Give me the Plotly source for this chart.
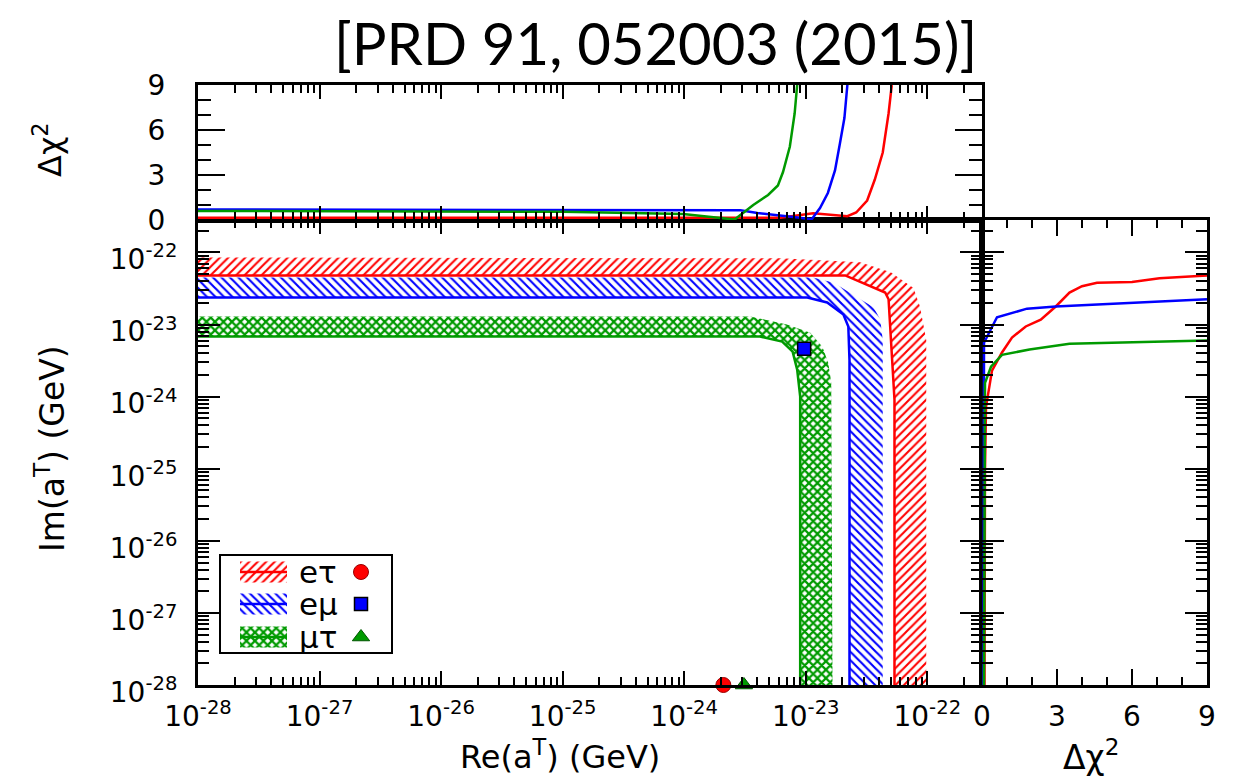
import plotly.graph_objects as go

W, H = 1243, 779

# ---------------- allowed bands in the (Re a^T, Im a^T) plane ----------------
# inner edge (drawn as a solid line) and outer edge of each hatched band
et_in_re = [1e-28, 2.11e-23, 4.5e-23, 4.8e-23, 5.37e-23, 5.37e-23]
et_in_im = [4.8e-23, 4.8e-23, 2.78e-23, 2.24e-23, 9.1e-25, 1e-28]
et_out_re = [1e-28, 6.2e-24, 2.8e-23, 5.0e-23, 7.7e-23, 8.7e-23, 9.8e-23, 9.8e-23]
et_out_im = [8.5e-23, 8.3e-23, 7.3e-23, 5.3e-23, 3.2e-23, 1.78e-23, 6.1e-24, 1e-28]

em_in_re = [1e-28, 1.03e-23, 1.5e-23, 2.04e-23, 2.24e-23, 2.29e-23, 2.29e-23]
em_in_im = [2.37e-23, 2.37e-23, 2.02e-23, 1.38e-23, 9.4e-24, 3.2e-24, 1e-28]
em_out_re = [1e-28, 1.15e-23, 1.7e-23, 3.6e-23, 4.1e-23, 4.3e-23, 4.3e-23]
em_out_im = [4.5e-23, 4.5e-23, 3.8e-23, 1.74e-23, 1.18e-23, 6.1e-24, 1e-28]

mt_in_re = [1e-28, 4.2e-24, 6.4e-24, 7.8e-24, 8.5e-24, 9.0e-24, 9.0e-24]
mt_in_im = [6.8e-24, 6.8e-24, 5.8e-24, 4.2e-24, 2.37e-24, 1.0e-24, 1e-28]
mt_out_re = [1e-28, 3.5e-24, 7.0e-24, 1.09e-23, 1.37e-23, 1.53e-23, 1.62e-23, 1.66e-23]
mt_out_im = [1.29e-23, 1.29e-23, 1.0e-23, 7.7e-24, 4.9e-24, 2.95e-24, 1.58e-24, 1e-28]

# best-fit points
best_labels = ["eτ", "eμ", "μτ"]
best_re = [2.1e-24, 9.7e-24, 3.1e-24]
best_im = [1e-28, 4.6e-24, 1e-28]

# ---------------- Δχ² profiles ----------------
et_top_re = [1e-28, 6.2e-24, 1.15e-23, 2.2e-23, 2.6e-23, 3.2e-23, 3.7e-23, 4.3e-23, 4.8e-23, 5.1e-23]
et_top_chi2 = [0.15, 0.15, 0.45, 0.25, 0.5, 1.3, 2.7, 4.5, 7.1, 9.0]
em_top_re = [1e-28, 9.8e-25, 2.9e-24, 4.0e-24, 5.4e-24, 7.9e-24, 1.12e-23, 1.31e-23,
             1.52e-23, 1.74e-23, 1.91e-23, 2.08e-23, 2.2e-23]
em_top_chi2 = [0.7, 0.7, 0.65, 0.47, 0.33, 0.2, 0.05, 0.8, 1.8, 3.3, 5.1, 6.8, 9.0]
mt_top_re = [1e-28, 1e-26, 1e-25, 9.8e-25, 2.0e-24, 2.6e-24, 3.7e-24, 4.9e-24, 5.9e-24,
             6.5e-24, 7.4e-24, 8.1e-24, 8.5e-24]
mt_top_chi2 = [0.6, 0.6, 0.55, 0.4, 0.13, 0.03, 1.0, 1.67, 2.3, 3.2, 4.9, 7.1, 9.0]

et_side_im = [1e-28, 1e-25, 7.2e-25, 2.3e-24, 4.1e-24, 6.6e-24, 9.4e-24, 1.17e-23, 1.78e-23,
              2.78e-23, 3.4e-23, 3.8e-23, 3.9e-23, 4.4e-23, 4.8e-23]
et_side_chi2 = [0.1, 0.12, 0.16, 0.4, 0.8, 1.2, 1.75, 2.35, 2.95, 3.5, 4.0, 4.6, 6.0, 7.1, 9.0]
em_side_im = [1e-28, 5.6e-24, 1.26e-23, 1.66e-23, 1.78e-23, 2.24e-23]
em_side_chi2 = [0.06, 0.08, 0.6, 1.8, 2.95, 9.0]
mt_side_im = [1e-28, 5e-25, 1.55e-24, 2.6e-24, 3.8e-24, 4.5e-24, 5.4e-24, 6.0e-24]
mt_side_chi2 = [0.08, 0.1, 0.12, 0.36, 0.8, 1.9, 3.5, 9.0]

# axis ticks
log_exps = [-28, -27, -26, -25, -24, -23, -22]
chi2_ticks = [0, 3, 6, 9]

RED, BLUE, GREEN = "#ff0000", "#0000ff", "#009a00"
channels = [
    dict(name="eτ", color=RED, pat=dict(shape="/", size=6, solidity=0.35),
         in_re=et_in_re, in_im=et_in_im, out_re=et_out_re, out_im=et_out_im,
         top=(et_top_re, et_top_chi2), side=(et_side_chi2, et_side_im),
         sym="circle", msize=15, mline="#990000", mlw=1),
    dict(name="eμ", color=BLUE, pat=dict(shape="\\", size=6, solidity=0.35),
         in_re=em_in_re, in_im=em_in_im, out_re=em_out_re, out_im=em_out_im,
         top=(em_top_re, em_top_chi2), side=(em_side_chi2, em_side_im),
         sym="square", msize=13, mline="black", mlw=1.5),
    dict(name="μτ", color=GREEN, pat=dict(shape="x", size=6, solidity=0.6),
         in_re=mt_in_re, in_im=mt_in_im, out_re=mt_out_re, out_im=mt_out_im,
         top=(mt_top_re, mt_top_chi2), side=(mt_side_chi2, mt_side_im),
         sym="triangle-up", msize=15, mline="#005500", mlw=1),
]

fig = go.Figure()

# hatched bands
for c in channels:
    xs = c["out_re"] + c["in_re"][::-1]
    ys = c["out_im"] + c["in_im"][::-1]
    fig.add_trace(go.Scatter(
        x=xs, y=ys, mode="lines", fill="toself", line=dict(width=0),
        fillcolor="rgba(0,0,0,0)",
        fillpattern=dict(fgcolor=c["color"], bgcolor="rgba(0,0,0,0)", fillmode="replace", **c["pat"]),
        xaxis="x", yaxis="y", hoverinfo="skip", showlegend=False))

# inner edges
for c in channels:
    fig.add_trace(go.Scatter(x=c["in_re"], y=c["in_im"], mode="lines",
                             line=dict(color=c["color"], width=2.5),
                             xaxis="x", yaxis="y", showlegend=False))

# best-fit markers
for c, lab, re, im in zip(channels, best_labels, best_re, best_im):
    fig.add_trace(go.Scatter(x=[re], y=[im], mode="markers", cliponaxis=False,
                             marker=dict(symbol=c["sym"], size=c["msize"], color=c["color"],
                                         line=dict(color=c["mline"], width=c["mlw"])),
                             xaxis="x", yaxis="y", name=lab, showlegend=False))

# Δχ² profiles
for c in channels:
    fig.add_trace(go.Scatter(x=c["top"][0], y=c["top"][1], mode="lines",
                             line=dict(color=c["color"], width=2.5),
                             xaxis="x2", yaxis="y2", showlegend=False))
    fig.add_trace(go.Scatter(x=c["side"][0], y=c["side"][1], mode="lines",
                             line=dict(color=c["color"], width=2.5),
                             xaxis="x3", yaxis="y3", showlegend=False))

# legend box (drawn on its own small axes, units are pixels inside the box)
row_y = [16, 48, 81]
sw_x0, sw_x1, sw_h = 19, 66, 10.5
for c, ry in zip(channels, row_y):
    fig.add_trace(go.Scatter(
        x=[sw_x0, sw_x1, sw_x1, sw_x0, sw_x0],
        y=[ry - sw_h, ry - sw_h, ry + sw_h, ry + sw_h, ry - sw_h],
        mode="lines", fill="toself", line=dict(width=0), fillcolor="rgba(0,0,0,0)",
        fillpattern=dict(fgcolor=c["color"], bgcolor="rgba(0,0,0,0)", fillmode="replace", **c["pat"]),
        xaxis="x4", yaxis="y4", hoverinfo="skip", showlegend=False))
    fig.add_trace(go.Scatter(x=[sw_x0, sw_x1], y=[ry, ry], mode="lines",
                             line=dict(color=c["color"], width=2.5),
                             xaxis="x4", yaxis="y4", showlegend=False))
    fig.add_trace(go.Scatter(x=[140], y=[ry], mode="markers", cliponaxis=False,
                             marker=dict(symbol=c["sym"], size=c["msize"], color=c["color"],
                                         line=dict(color=c["mline"], width=c["mlw"])),
                             xaxis="x4", yaxis="y4", showlegend=False))

# ---------------- axes ----------------
TICKFONT = dict(family="DejaVu Sans", size=28, color="black")
log_ticktext = ["10<sup>%d</sup>" % e for e in log_exps]
log_tickvals = [10.0 ** e for e in log_exps]
log_minor = [m * 10.0 ** e for e in range(-28, -21) for m in range(2, 10)]


def axis(ticklen, minorlen, **kw):
    d = dict(showline=True, linecolor="black", linewidth=3, mirror="ticks",
             ticks="inside", ticklen=ticklen, tickwidth=2, tickcolor="black",
             showgrid=False, zeroline=False, tickfont=TICKFONT, automargin=False,
             minor=dict(ticks="inside", ticklen=minorlen, tickwidth=2, tickcolor="black", showgrid=False))
    d.update(kw)
    return d


xm = [198 / W, 982 / W]
xr = [982 / W, 1207 / W]
ym = [1 - 685 / H, 1 - 220 / H]
yt = [1 - 220 / H, 1 - 85 / H]
LOG_RANGE = [-28, -21.55]

fig.update_layout(
    template="none",
    width=W, height=H, autosize=False,
    margin=dict(l=0, r=0, t=0, b=0, pad=0),
    paper_bgcolor="white", plot_bgcolor="white",
    showlegend=False,
    xaxis=axis(14, 8, domain=xm, anchor="y", type="log", range=LOG_RANGE,
               tickmode="array", tickvals=log_tickvals, ticktext=log_ticktext,
               ticklabelstandoff=4, minor_tickvals=log_minor),
    yaxis=axis(22, 11, domain=ym, anchor="x", type="log", range=LOG_RANGE,
               tickmode="array", tickvals=log_tickvals, ticktext=log_ticktext,
               ticklabelstandoff=12, ticklabelshift=7, minor_tickvals=log_minor),
    xaxis2=axis(14, 8, domain=xm, anchor="y2", type="log", range=LOG_RANGE, matches="x",
                tickmode="array", tickvals=log_tickvals, showticklabels=False,
                minor_tickvals=log_minor),
    yaxis2=axis(27, 13, domain=yt, anchor="x2", range=[0, 9],
                tickmode="array", tickvals=chi2_ticks, ticklabelstandoff=24, minor_dtick=1),
    xaxis3=axis(16, 8, domain=xr, anchor="y3", range=[0, 9],
                tickmode="array", tickvals=chi2_ticks, ticklabelstandoff=4, minor_dtick=1),
    yaxis3=axis(22, 11, domain=ym, anchor="x3", type="log", range=LOG_RANGE, matches="y",
                tickmode="array", tickvals=log_tickvals, showticklabels=False,
                minor_tickvals=log_minor),
    xaxis4=dict(domain=[221 / W, 391 / W], anchor="y4", range=[0, 170], showline=True,
                mirror=True, linecolor="black", linewidth=2, showticklabels=False,
                ticks="", showgrid=False, zeroline=False, fixedrange=True, automargin=False),
    yaxis4=dict(domain=[1 - 652 / H, 1 - 556 / H], anchor="x4", range=[96, 0], showline=True,
                mirror=True, linecolor="black", linewidth=2, showticklabels=False,
                ticks="", showgrid=False, zeroline=False, fixedrange=True, automargin=False),
)


def label(text, x, y, size, angle=0, family="DejaVu Sans"):
    return dict(text=text, x=x / W, y=1 - y / H, xref="paper", yref="paper",
                xanchor="center", yanchor="middle", showarrow=False, textangle=angle,
                font=dict(family=family, size=size, color="black"))


annotations = [
    label("[PRD 91, 052003 (2015)]", 655, 42, 58, family="Lato"),
    label("Re(a<sup>T</sup>) (GeV)", 560, 755, 32),
    label("Im(a<sup>T</sup>) (GeV)", 50, 449, 33, angle=-90),
    label("Δχ<sup>2</sup>", 48, 150, 32, angle=-90),
    label("Δχ<sup>2</sup>", 1091, 755, 33),
]
for lab, ry in zip(best_labels, row_y):
    annotations.append(dict(text=lab, x=76, y=ry, xref="x4", yref="y4", xanchor="left",
                            yanchor="middle", showarrow=False,
                            font=dict(family="DejaVu Sans", size=31, color="black")))
fig.update_layout(annotations=annotations)

fig.write_html("out.html")
